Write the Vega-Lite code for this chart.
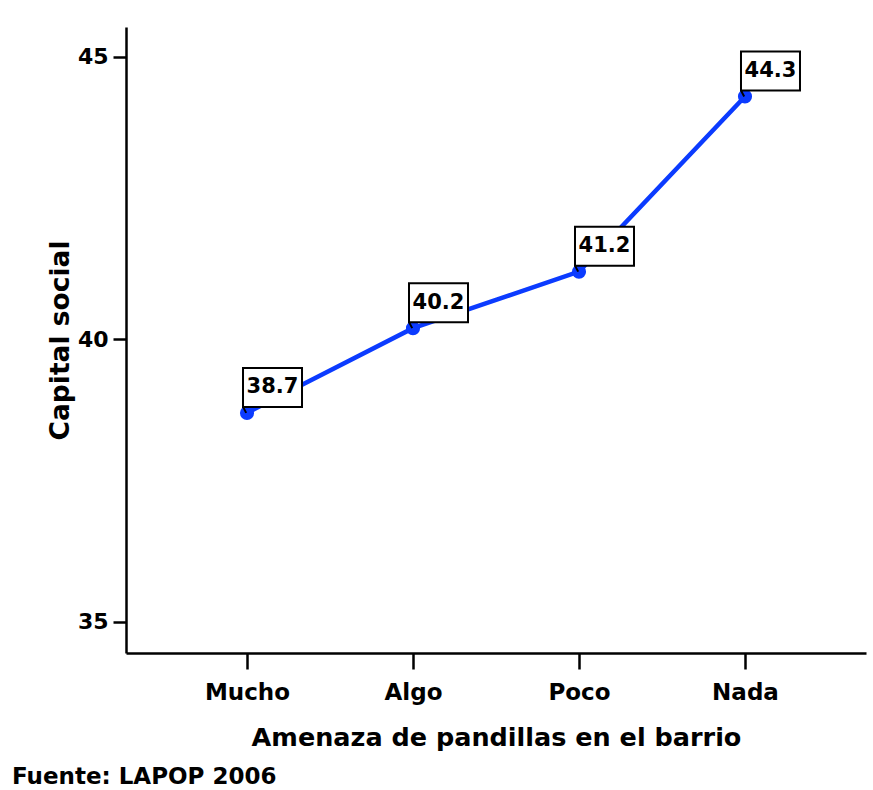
{
  "$schema": "https://vega.github.io/schema/vega-lite/v6.json",
  "width": 740,
  "height": 626,
  "autosize": {"type": "none"},
  "padding": {"left": 126, "top": 27, "right": 7, "bottom": 137},
  "background": "white",
  "config": {
    "view": {"stroke": null},
    "font": "DejaVu Sans",
    "axis": {
      "domainColor": "black", "domainWidth": 2.5, "tickColor": "black", "tickWidth": 2.5,
      "grid": false, "labelFont": "DejaVu Sans", "labelFontWeight": "bold", "labelColor": "black",
      "titleFont": "DejaVu Sans", "titleFontWeight": "bold", "titleColor": "black"
    }
  },
  "title": {
    "text": "Fuente: LAPOP 2006",
    "orient": "bottom", "anchor": "start", "frame": "group",
    "dx": -114, "offset": 15,
    "font": "DejaVu Sans", "fontSize": 23, "fontWeight": "bold", "color": "black"
  },
  "data": {
    "values": [
      {"amenaza": "Mucho", "capital": 38.7},
      {"amenaza": "Algo", "capital": 40.2},
      {"amenaza": "Poco", "capital": 41.2},
      {"amenaza": "Nada", "capital": 44.3}
    ]
  },
  "encoding": {
    "x": {
      "field": "amenaza", "type": "ordinal", "sort": ["Mucho", "Algo", "Poco", "Nada"],
      "scale": {"type": "point", "padding": 0.729},
      "axis": {
        "title": "Amenaza de pandillas en el barrio", "titleFontSize": 25.5, "titlePadding": 21,
        "labelAngle": 0, "labelFontSize": 23, "tickSize": 16, "labelPadding": 12
      }
    },
    "y": {
      "field": "capital", "type": "quantitative",
      "scale": {"domain": [34.45, 45.53], "nice": false, "zero": false},
      "axis": {
        "title": "Capital social", "titleFontSize": 26.5, "titlePadding": 3,
        "values": [35, 40, 45], "labelFontSize": 22, "tickSize": 13, "labelPadding": 5
      }
    }
  },
  "layer": [
    {"mark": {"type": "line", "color": "#0b3bff", "strokeWidth": 4.5}},
    {"mark": {"type": "point", "filled": true, "shape": "circle", "size": 200, "color": "#0b3bff", "opacity": 1}},
    {"mark": {
      "type": "point", "filled": false, "size": 6400, "strokeWidth": 2, "stroke": "black", "fill": "white", "fillOpacity": 1, "opacity": 1,
      "shape": "M-0.1,-0.15L-0.1,-1.125L1.375,-1.125L1.375,-0.15ZM-0.1,-0.15L-0.02,0"
    }},
    {"mark": {"type": "text", "dx": 25.5, "dy": -25.5, "align": "center", "baseline": "middle", "fontSize": 21, "fontWeight": "bold", "font": "DejaVu Sans", "color": "black"},
     "encoding": {"text": {"field": "capital", "type": "quantitative", "format": ".1f"}}}
  ]
}
